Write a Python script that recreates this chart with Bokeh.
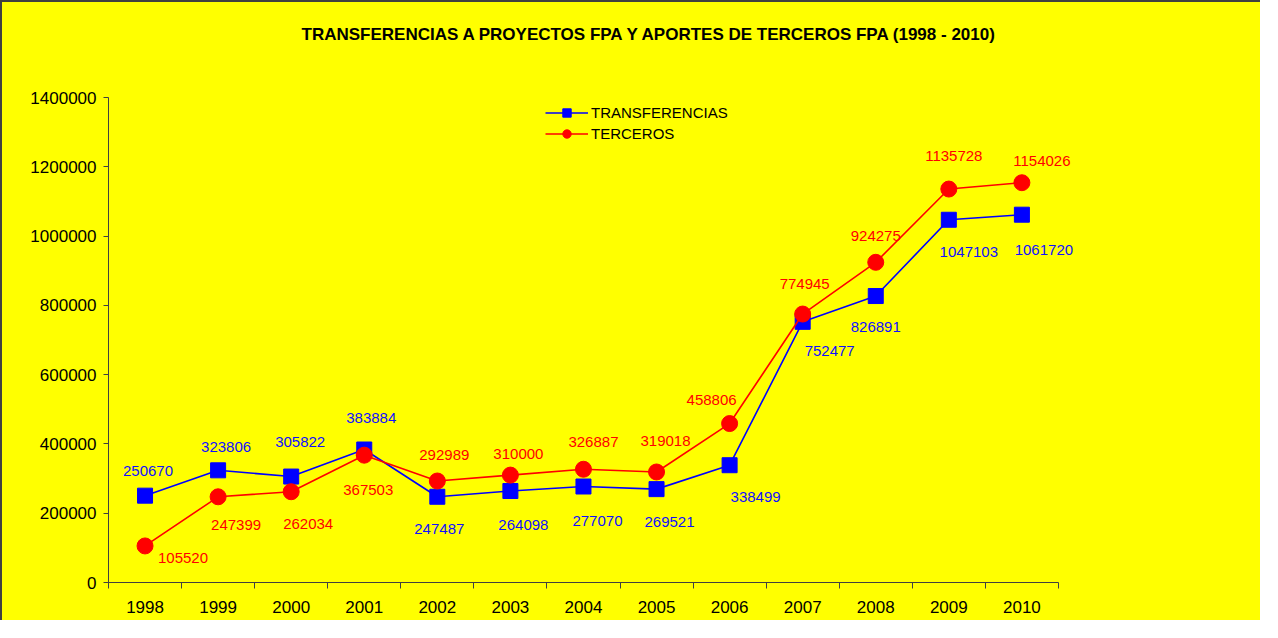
from bokeh.plotting import figure
from bokeh.models import ColumnDataSource, FixedTicker, Range1d, Legend, LegendItem, LabelSet, Title
from bokeh.embed import file_html
from bokeh.resources import INLINE
from bokeh.core.properties import value

years = ["1998", "1999", "2000", "2001", "2002", "2003", "2004",
         "2005", "2006", "2007", "2008", "2009", "2010"]
transferencias = [250670, 323806, 305822, 383884, 247487, 264098, 277070,
                  269521, 338499, 752477, 826891, 1047103, 1061720]
terceros = [105520, 247399, 262034, 367503, 292989, 310000, 326887,
            319018, 458806, 774945, 924275, 1135728, 1154026]
y_ticks = [0, 200000, 400000, 600000, 800000, 1000000, 1200000, 1400000]

# data-label offsets in pixels (positive dy = upwards)
transf_dx = [3, 8, 9, 7, 2, 13, 14, 13, 26, 27, 0, 20, 22]
transf_dy = [25, 23, 35, 32, -32, -34, -34, -33, -32, -29, -31, -32, -35]
terc_dx = [38, 18, 17, 4, 7, 8, 10, 9, -18, 2, 0, 5, 20]
terc_dy = [-12, -28, -32, -35, 26, 21, 27, 31, 24, 30, 26, 33, 22]

FONT = "Liberation Sans"
YELLOW = "#FFFF00"
AXIS = "#404040"

n = len(years)
xs = list(range(n))
src_t = ColumnDataSource(dict(x=xs, y=transferencias, lab=[str(v) for v in transferencias],
                              dx=transf_dx, dy=transf_dy))
src_c = ColumnDataSource(dict(x=xs, y=terceros, lab=[str(v) for v in terceros],
                              dx=terc_dx, dy=terc_dy))

p = figure(width=1260, height=620, output_backend="svg", toolbar_location=None,
           x_range=Range1d(-0.5, n + 0.5), y_range=Range1d(0, 1400000),
           title=None,
           min_border_left=106, min_border_right=131, min_border_top=95, min_border_bottom=40)
p.styles = {"border-left": "2px solid #404040", "border-top": "2px solid #404040",
            "background-color": YELLOW}
p.background_fill_color = YELLOW
p.border_fill_color = YELLOW
p.outline_line_color = None
p.grid.visible = False

# spacer title (closest to the frame), then the real title above it
p.add_layout(Title(text=" ", text_font_size="10px", standoff=36), "above")
p.add_layout(Title(text="TRANSFERENCIAS A PROYECTOS FPA Y APORTES DE TERCEROS FPA (1998 - 2010)",
                   align="left", offset=193, standoff=10, text_font=FONT,
                   text_font_size="17px", text_font_style="bold", text_color="black"), "above")

# x axis: labels at category centres, ticks at category boundaries
xa = p.xaxis[0]
xa.bounds = (-0.5, n - 0.5)
xa.ticker = FixedTicker(ticks=xs, minor_ticks=[i - 0.5 for i in range(n + 1)])
xa.major_label_overrides = {i: y for i, y in enumerate(years)}
xa.major_tick_line_color = None
xa.major_tick_out = 0
xa.major_tick_in = 0
xa.minor_tick_out = 6
xa.minor_tick_in = 0
xa.minor_tick_line_color = AXIS
xa.axis_line_color = AXIS
xa.major_label_text_font = FONT
xa.major_label_text_font_size = "17px"
xa.major_label_text_color = "black"
xa.major_label_standoff = 12

ya = p.yaxis[0]
ya.ticker = FixedTicker(ticks=y_ticks)
ya.formatter.use_scientific = False
ya.minor_tick_line_color = None
ya.major_tick_out = 5
ya.major_tick_in = 0
ya.major_tick_line_color = AXIS
ya.axis_line_color = AXIS
ya.major_label_text_font = FONT
ya.major_label_text_font_size = "17px"
ya.major_label_text_color = "black"
ya.major_label_standoff = 7

lt = p.line("x", "y", source=src_t, line_color="#0000FF", line_width=1.6)
mt = p.scatter("x", "y", source=src_t, marker="square", size=15,
               fill_color="#0000FF", line_color="#0000FF")
lc = p.line("x", "y", source=src_c, line_color="#FF0000", line_width=1.6)
mc = p.scatter("x", "y", source=src_c, marker="circle", size=16,
               fill_color="#FF0000", line_color="#FF0000")

p.add_layout(LabelSet(x="x", y="y", text="lab", source=src_t, x_offset="dx", y_offset="dy",
                      text_align="center", text_baseline="middle", text_font=value(FONT),
                      text_font_size="15px", text_color="#1010FF"))
p.add_layout(LabelSet(x="x", y="y", text="lab", source=src_c, x_offset="dx", y_offset="dy",
                      text_align="center", text_baseline="middle", text_font=value(FONT),
                      text_font_size="15px", text_color="#FF0000"))

legend = Legend(items=[LegendItem(label="TRANSFERENCIAS", renderers=[lt, mt]),
                       LegendItem(label="TERCEROS", renderers=[lc, mc])],
                location=(437, 438), padding=0, margin=0, spacing=0,
                glyph_width=43, glyph_height=21, label_height=21, label_standoff=3,
                label_text_font=FONT, label_text_font_size="15px",
                label_text_color="black", background_fill_alpha=0,
                border_line_color=None)
p.add_layout(legend, "center")

open("out.html", "w").write(file_html(p, INLINE))
